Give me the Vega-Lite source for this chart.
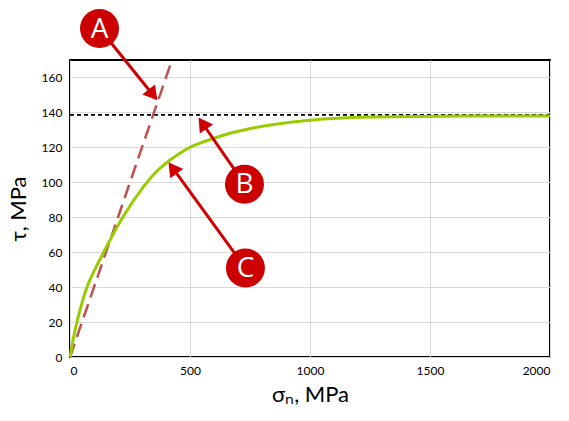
{
  "$schema": "https://vega.github.io/schema/vega-lite/v6.json",
  "width": 480,
  "height": 297,
  "autosize": "none",
  "padding": {"left": 70, "top": 60, "right": 19, "bottom": 64},
  "config": {
    "view": {"stroke": "#000000", "strokeWidth": 2},
    "font": "Lato",
    "axis": {
      "grid": true,
      "gridColor": "#D9D9D9",
      "gridWidth": 1,
      "domain": false,
      "ticks": false,
      "labelFont": "Lato",
      "labelFontSize": 12,
      "labelColor": "#000000",
      "labelPadding": 8,
      "titleFont": "Lato",
      "titleFontSize": 22,
      "titleFontWeight": "normal",
      "titleColor": "#000000"
    }
  },
  "datasets": {
    "curve": [
      {"sigma": 0, "tau": 0},
      {"sigma": 12, "tau": 9.5},
      {"sigma": 28, "tau": 20},
      {"sigma": 50, "tau": 31},
      {"sigma": 69, "tau": 40},
      {"sigma": 100, "tau": 49.3},
      {"sigma": 147, "tau": 61.8},
      {"sigma": 214, "tau": 79.6},
      {"sigma": 316, "tau": 99.8},
      {"sigma": 365, "tau": 107},
      {"sigma": 407, "tau": 112},
      {"sigma": 477, "tau": 118.4},
      {"sigma": 500, "tau": 120.2},
      {"sigma": 600, "tau": 125.6},
      {"sigma": 750, "tau": 131.4},
      {"sigma": 1000, "tau": 136.1},
      {"sigma": 1250, "tau": 137.5},
      {"sigma": 1500, "tau": 137.9},
      {"sigma": 2000, "tau": 138.0}
    ],
    "tangent": [
      {"sigma": 0, "tau": 0},
      {"sigma": 425, "tau": 170}
    ],
    "limit": [
      {"tau": 138.6}
    ],
    "arrows": [
      {"label": "A", "sigma": 123, "tau": 188, "tip_sigma": 346, "tip_tau": 150, "angle": 141},
      {"label": "B", "sigma": 727, "tau": 98.9, "tip_sigma": 552, "tip_tau": 133.8, "angle": 325.5},
      {"label": "C", "sigma": 731, "tau": 50.9, "tip_sigma": 427.5, "tip_tau": 108.2, "angle": 324}
    ]
  },
  "encoding": {
    "x": {
      "field": "sigma",
      "type": "quantitative",
      "title": "σₙ, MPa",
      "scale": {"domain": [0, 2000], "nice": false},
      "axis": {"values": [0, 500, 1000, 1500, 2000], "format": "d", "titlePadding": 8}
    },
    "y": {
      "field": "tau",
      "type": "quantitative",
      "title": "τ, MPa",
      "scale": {"domain": [0, 170], "nice": false},
      "axis": {"values": [0, 20, 40, 60, 80, 100, 120, 140, 160], "titlePadding": 11}
    }
  },
  "layer": [
    {
      "data": {"name": "limit"},
      "mark": {"type": "rule", "color": "#000000", "strokeWidth": 1.6, "strokeDash": [4, 3]},
      "encoding": {"x": null}
    },
    {
      "data": {"name": "tangent"},
      "mark": {"type": "line", "color": "#C0504D", "strokeWidth": 2.5, "strokeDash": [14, 7]}
    },
    {
      "data": {"name": "curve"},
      "mark": {"type": "line", "color": "#99CC00", "strokeWidth": 3, "interpolate": "basis"}
    },
    {
      "data": {"name": "arrows"},
      "mark": {"type": "rule", "color": "#D00000", "strokeWidth": 3},
      "encoding": {
        "x2": {"field": "tip_sigma"},
        "y2": {"field": "tip_tau"}
      }
    },
    {
      "data": {"name": "arrows"},
      "mark": {"type": "point", "shape": "triangle-up", "filled": true, "color": "#D00000", "size": 260, "opacity": 1},
      "encoding": {
        "x": {"field": "tip_sigma", "type": "quantitative"},
        "y": {"field": "tip_tau", "type": "quantitative"},
        "angle": {"field": "angle", "type": "quantitative", "scale": null}
      }
    },
    {
      "data": {"name": "arrows"},
      "mark": {"type": "point", "shape": "circle", "filled": true, "color": "#CC0000", "size": 1521, "opacity": 1}
    },
    {
      "data": {"name": "arrows"},
      "mark": {"type": "text", "color": "#FFFFFF", "fontSize": 28, "font": "Open Sans", "align": "center", "baseline": "middle", "dy": 1},
      "encoding": {"text": {"field": "label"}}
    }
  ]
}
